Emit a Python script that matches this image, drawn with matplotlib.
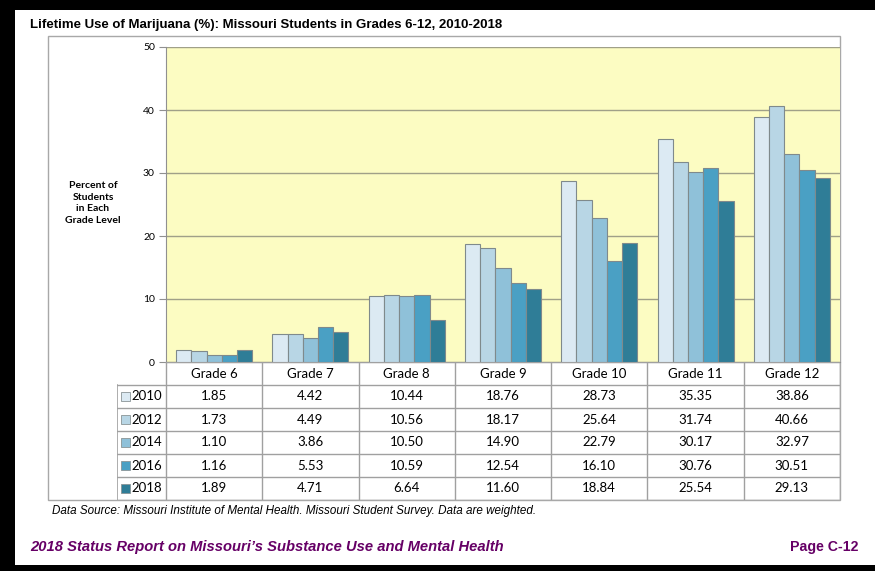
import numpy as np
import matplotlib.pyplot as plt
from matplotlib.patches import Rectangle

grades = ["Grade 6", "Grade 7", "Grade 8", "Grade 9", "Grade 10", "Grade 11", "Grade 12"]
years = ["2010", "2012", "2014", "2016", "2018"]
v2010 = [1.85, 4.42, 10.44, 18.76, 28.73, 35.35, 38.86]
v2012 = [1.73, 4.49, 10.56, 18.17, 25.64, 31.74, 40.66]
v2014 = [1.10, 3.86, 10.50, 14.90, 22.79, 30.17, 32.97]
v2016 = [1.16, 5.53, 10.59, 12.54, 16.10, 30.76, 30.51]
v2018 = [1.89, 4.71, 6.64, 11.60, 18.84, 25.54, 29.13]
series = [v2010, v2012, v2014, v2016, v2018]
colors = ["#dceaf3", "#b8d6e5", "#8fc1d9", "#4aa0c4", "#2f7d97"]

W, H = 875, 571


def fx(px):
    return px / W


def fy(py):
    return 1 - py / H


fig = plt.figure(figsize=(W / 100, H / 100), dpi=100)
fig.patch.set_facecolor("black")
fig.patches.append(Rectangle((fx(15), fy(565)), fx(875) - fx(15), fy(10) - fy(565),
                             transform=fig.transFigure, facecolor="white", edgecolor="none", zorder=-10))
fig.patches.append(Rectangle((fx(48), fy(500)), fx(840) - fx(48), fy(36) - fy(500),
                             transform=fig.transFigure, facecolor="none", edgecolor="#a8a8a8",
                             linewidth=1.0, zorder=-5))

# bar chart
ax = fig.add_axes([fx(166), fy(362), fx(840) - fx(166), fy(47) - fy(362)])
ax.set_facecolor("#fcfcc2")
x = np.arange(len(grades))
bw = 0.158
for i, vals in enumerate(series):
    ax.bar(x + (i - 2) * bw, vals, bw, color=colors[i], edgecolor="#7f8a8c", linewidth=0.8, zorder=3)
ax.set_xlim(-0.5, len(grades) - 0.5)
ax.set_ylim(0, 50)
ax.set_yticks(range(0, 51, 10))
ax.yaxis.grid(True, color="#a0a088", linewidth=1.0, zorder=1)
ax.set_xticks([])
ax.tick_params(axis="y", length=5, color="#909090", labelsize=7.5, pad=3)
for t in ax.get_yticklabels():
    t.set_fontfamily("Lato")
for s in ["top", "right"]:
    ax.spines[s].set_visible(False)
ax.spines["left"].set_color("#909090")
ax.spines["bottom"].set_color("#909090")

fig.text(fx(93), fy(203), "Percent of\nStudents\nin Each\nGrade Level", ha="center", va="center",
         fontsize=7.5, fontweight="bold", family="Lato", linespacing=1.35)

# table under the chart
tx = fig.add_axes([fx(117), fy(500), fx(840) - fx(117), fy(362) - fy(500)])
left = -0.5 - (166 - 117) / 96.3
tx.set_xlim(left, len(grades) - 0.5)
tx.set_ylim(6, 0)
tx.axis("off")
lc = "#a0a0a0"
tx.plot([-0.5, len(grades) - 0.5], [0, 0], color=lc, lw=1)
for r in range(1, 7):
    tx.plot([left, len(grades) - 0.5], [r, r], color=lc, lw=1)
tx.plot([left, left], [1, 6], color=lc, lw=1.2)
for c in range(len(grades) + 1):
    tx.plot([c - 0.5, c - 0.5], [0, 6], color=lc, lw=1)
for c, g in enumerate(grades):
    tx.text(c, 0.5, g, ha="center", va="center", fontsize=9.5, family="Lato")
for r, vals in enumerate(series):
    for c, v in enumerate(vals):
        tx.text(c, r + 1.5, f"{v:.2f}", ha="center", va="center", fontsize=9.5, family="Lato")
    tx.add_patch(Rectangle((left + 0.04, r + 1.3), 0.095, 0.4, facecolor=colors[r],
                           edgecolor="#8a9496", lw=0.6))
    tx.text(left + 0.155, r + 1.5, years[r], ha="left", va="center", fontsize=9.5, family="Lato")

fig.text(fx(30), fy(25), "Lifetime Use of Marijuana (%): Missouri Students in Grades 6-12, 2010-2018",
         ha="left", va="center", fontsize=9.5, fontweight="bold", family="Liberation Sans")
fig.text(fx(52), fy(511), "Data Source: Missouri Institute of Mental Health. Missouri Student Survey. Data are weighted.",
         ha="left", va="center", fontsize=8.4, style="italic", family="Liberation Sans")
fig.text(fx(30), fy(547), "2018 Status Report on Missouri\u2019s Substance Use and Mental Health",
         ha="left", va="center", fontsize=10.6, fontweight="bold", style="italic", color="#660066",
         family="Liberation Sans")
fig.text(fx(858), fy(547), "Page C-12", ha="right", va="center", fontsize=10.2, fontweight="bold",
         color="#660066", family="Liberation Sans")

fig.savefig("out.png", dpi=100, facecolor=fig.get_facecolor())
